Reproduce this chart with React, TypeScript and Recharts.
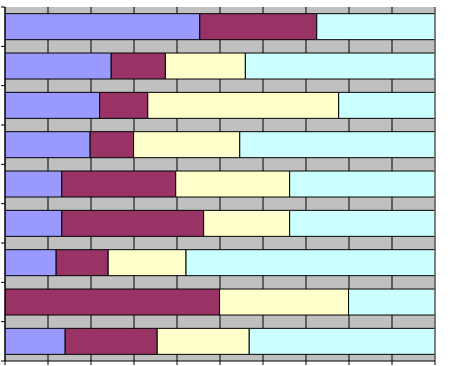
import { BarChart, Bar, XAxis, YAxis, CartesianGrid, ReferenceLine } from 'recharts';

// nine rows, top to bottom; each row is shares of four parts (100% stacked)
const rows = [0.5, 1.5, 2.5, 3.5, 4.5, 5.5, 6.5, 7.5, 8.5];
const partA = [45.3, 24.7, 22.0, 19.8, 13.2, 13.2, 11.9, 0, 14.0];
const partB = [27.2, 12.6, 11.2, 10.1, 26.5, 33.0, 12.1, 49.9, 21.4];
const partC = [0, 18.6, 44.4, 24.7, 26.5, 20.0, 18.1, 30.0, 21.4];
const partD = [27.5, 44.1, 22.4, 45.4, 33.8, 33.8, 57.9, 20.1, 43.2];

const xTicks = [0, 0.1, 0.2, 0.3, 0.4, 0.5, 0.6, 0.7, 0.8, 0.9, 1];
const rowEdges = [0, 1, 2, 3, 4, 5, 6, 7, 8, 9];

const series = [
  { key: 'a', color: '#9999ff' },
  { key: 'b', color: '#993366' },
  { key: 'c', color: '#ffffcc' },
  { key: 'd', color: '#ccffff' },
];

const data = rows.map((pos, i) => ({
  pos,
  a: partA[i],
  b: partB[i],
  c: partC[i],
  d: partD[i],
}));

const blank = () => '';

export default function App() {
  return (
    <div style={{ position: 'absolute', left: 0, top: 0, width: 456, height: 366, background: '#fff' }}>
      <BarChart
        width={456}
        height={366}
        data={data}
        layout="vertical"
        stackOffset="expand"
        barCategoryGap="17%"
        margin={{ top: 7, right: 21, left: 0, bottom: 0 }}
      >
        <CartesianGrid
          horizontal={false}
          vertical={true}
          stroke="#000"
          strokeOpacity={1}
          fill="#c0c0c0"
          fillOpacity={1}
        />
        <XAxis
          type="number"
          domain={[0, 1]}
          ticks={xTicks}
          tickFormatter={blank}
          height={5}
          tickSize={4}
          axisLine={{ stroke: '#000' }}
          tickLine={{ stroke: '#000' }}
          allowDataOverflow
        />
        <YAxis
          type="number"
          dataKey="pos"
          domain={[0, 9]}
          ticks={rowEdges}
          tickFormatter={blank}
          width={5}
          tickSize={4}
          axisLine={{ stroke: '#000' }}
          tickLine={{ stroke: '#000' }}
        />
        {series.map(s => (
          <Bar
            key={s.key}
            dataKey={s.key}
            stackId="1"
            fill={s.color}
            stroke="#000"
            strokeWidth={1}
            isAnimationActive={false}
          />
        ))}
        <ReferenceLine x={1} stroke="#808080" strokeWidth={1} />
      </BarChart>
    </div>
  );
}
